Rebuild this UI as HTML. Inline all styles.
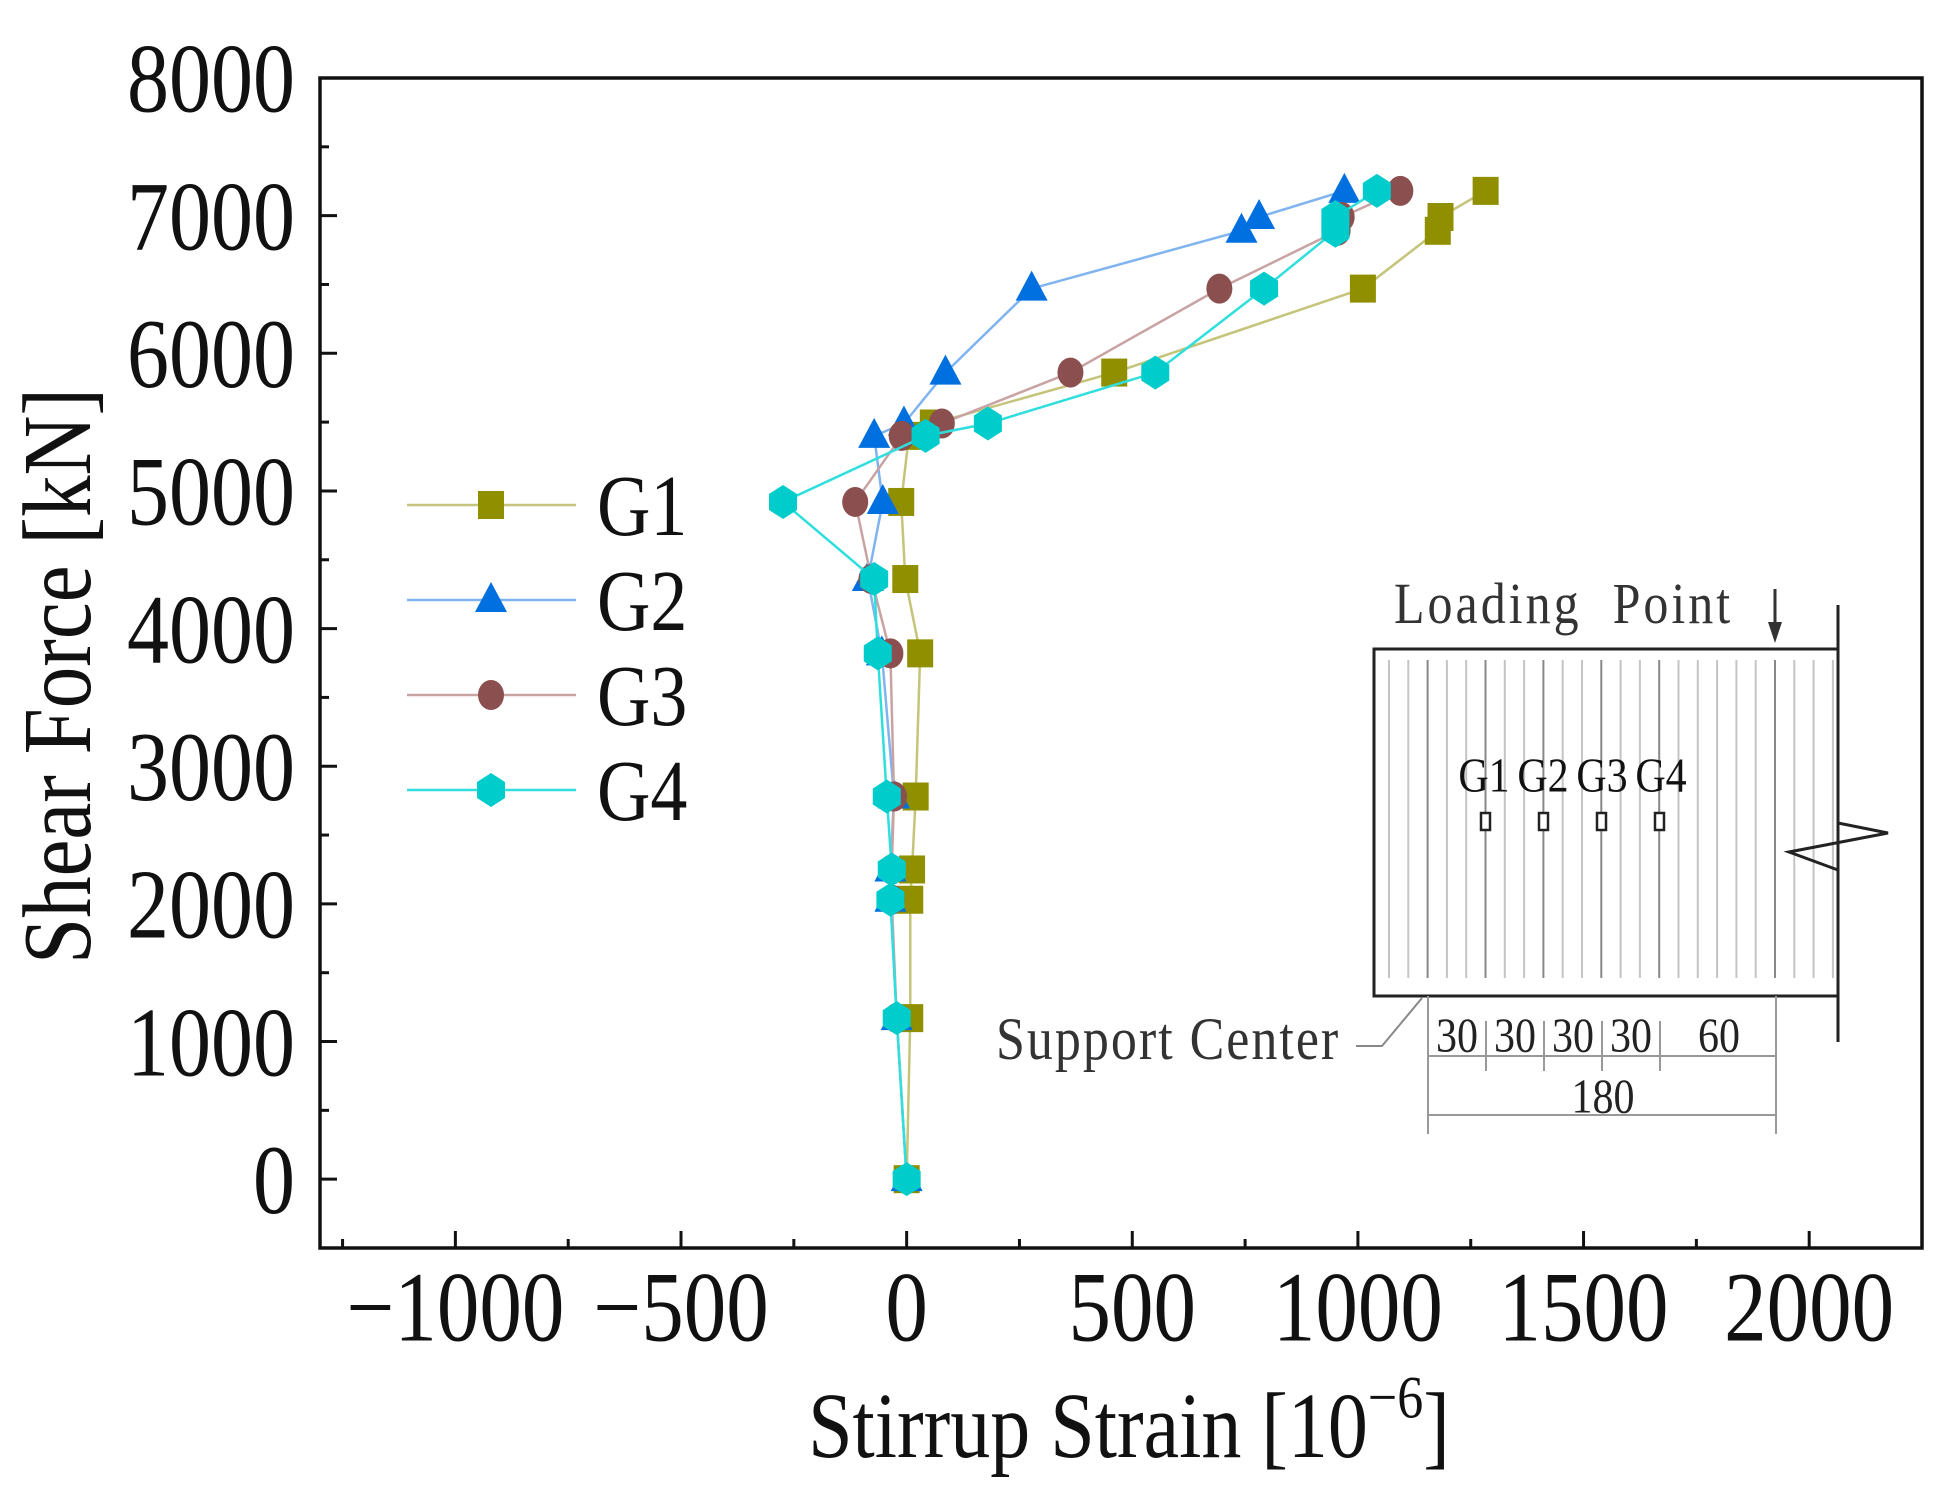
<!DOCTYPE html>
<html><head><meta charset="utf-8"><style>
html,body{margin:0;padding:0;background:#fff;}
svg{display:block;font-family:"Liberation Serif",serif;}
.tall{transform-box:fill-box;transform-origin:50% 50%;transform:scaleY(1.17);}
</style></head><body>
<svg id="chart" width="1954" height="1502" viewBox="0 0 1954 1502" xmlns="http://www.w3.org/2000/svg">
<g id="plot"></g>
<g id="inset" font-family="Liberation Serif, serif" fill="#333">
  <g id="stirrups"></g>
  <rect x="1374" y="649" width="464" height="347" fill="none" stroke="#222" stroke-width="3"/>
  <path d="M1838 605 L1838 823 L1888 833 L1789 852 L1838 870 L1838 1042" fill="none" stroke="#222" stroke-width="3"/>
  <text class="tall" x="1394" y="620" font-size="50" letter-spacing="3" fill="#333">Loading&#160; Point</text>
  <line x1="1775" y1="589" x2="1775" y2="630" stroke="#333" stroke-width="3"/>
  <polygon points="1768,622 1782,622 1775,643" fill="#333"/>
  <g font-size="42" fill="#111">
    <text class="tall" x="1484" y="789" text-anchor="middle">G1</text>
    <text class="tall" x="1543" y="789" text-anchor="middle">G2</text>
    <text class="tall" x="1602" y="789" text-anchor="middle">G3</text>
    <text class="tall" x="1661" y="789" text-anchor="middle">G4</text>
  </g>
  <g fill="#fff" stroke="#222" stroke-width="2.5">
    <rect x="1481" y="813" width="9" height="17"/>
    <rect x="1539" y="813" width="9" height="17"/>
    <rect x="1597" y="813" width="9" height="17"/>
    <rect x="1655" y="813" width="9" height="17"/>
  </g>
  <text class="tall" x="996" y="1056" font-size="52" letter-spacing="2" fill="#333">Support Center</text>
  <polyline points="1356,1046 1382,1046 1422,998" fill="none" stroke="#888" stroke-width="2"/>
  <g stroke="#999" stroke-width="2">
    <line x1="1428" y1="996" x2="1428" y2="1134"/>
    <line x1="1776" y1="996" x2="1776" y2="1134"/>
    <line x1="1486" y1="1021" x2="1486" y2="1071"/>
    <line x1="1544" y1="1021" x2="1544" y2="1071"/>
    <line x1="1602" y1="1021" x2="1602" y2="1071"/>
    <line x1="1660" y1="1021" x2="1660" y2="1071"/>
    <line x1="1428" y1="1056" x2="1776" y2="1056"/>
    <line x1="1428" y1="1115" x2="1776" y2="1115"/>
  </g>
  <g font-size="42" fill="#222" text-anchor="middle">
    <text class="tall" x="1457" y="1049">30</text>
    <text class="tall" x="1515" y="1049">30</text>
    <text class="tall" x="1573" y="1049">30</text>
    <text class="tall" x="1631" y="1049">30</text>
    <text class="tall" x="1719" y="1049">60</text>
    <text class="tall" x="1603" y="1110">180</text>
  </g>
</g>
<script>
const xTicks = [-1000, -500, 0, 500, 1000, 1500, 2000];
const yTicks = [0, 1000, 2000, 3000, 4000, 5000, 6000, 7000, 8000];
const shear = [0, 1170, 2030, 2250, 2780, 3820, 4360, 4920, 5400, 5490, 5860, 6470, 6890, 6990, 7180];
const g1 = [0, 8, 8, 12, 20, 30, -3, -12, 5, 58, 460, 1011, 1177, 1183, 1283];
const g2 = [0, -22, -36, -36, -28, -55, -86, -53, -72, -6, 86, 277, 742, 781, 970];
const g3 = [0, -22, -33, -33, -28, -36, -78, -114, -11, 78, 363, 693, 955, 964, 1094];
const g4 = [0, -22, -36, -33, -44, -64, -72, -274, 42, 180, 551, 792, 950, 950, 1042];

const NS = 'http://www.w3.org/2000/svg';
const X0 = 320, X1 = 1922, Y0 = 1248, Y1 = 78;
const xMin = -1300, xMax = 2250, yMin = -500, yMax = 8000;
function sx(v){ return X0 + (v - xMin) / (xMax - xMin) * (X1 - X0); }
function sy(v){ return Y0 - (v - yMin) / (yMax - yMin) * (Y0 - Y1); }
function mk(tag, attrs, parent){
  const e = document.createElementNS(NS, tag);
  for (const k in attrs) e.setAttribute(k, attrs[k]);
  parent.appendChild(e); return e;
}
const plot = document.getElementById('plot');

// stirrups in inset
const st = document.getElementById('stirrups');
for (let i = 0; i < 24; i++) {
  const x = 1389 + i * 19.3;
  const dark = [2,5,8,11,14,20].includes(i);
  const l = mk('line', {x1:x, y1:660, x2:x, y2:978, stroke: dark ? '#888' : '#c4c4c4', 'stroke-width':2}, st);
  
  
}

// frame
const fr = mk('rect', {x:X0, y:Y1, width:X1-X0, height:Y0-Y1, fill:'none', stroke:'#111', 'stroke-width':3.5}, plot);



for (let v = -1250; v <= 2250; v += 250) {
  const major = v % 500 === 0;
  const t = mk('line', {x1:sx(v), x2:sx(v), y1:Y0, y2:Y0-(major?17:9), stroke:'#111', 'stroke-width':3}, plot);
  
  
}
xTicks.forEach(v => {
  const t = mk('text', {x:sx(v), y:1336, 'font-size':85, 'text-anchor':'middle', fill:'#111', class:'tall'}, plot);
  t.textContent = v < 0 ? '\u2212' + Math.abs(v) : String(v);
  
  
});
for (let v = -500; v <= 8000; v += 500) {
  const major = v % 1000 === 0;
  const t = mk('line', {x1:X0, x2:X0+(major?17:9), y1:sy(v), y2:sy(v), stroke:'#111', 'stroke-width':3}, plot);
  
  
}
yTicks.forEach(v => {
  const t = mk('text', {x:295, y:sy(v)+29, 'font-size':84, 'text-anchor':'end', fill:'#111', class:'tall'}, plot);
  t.textContent = String(v);
  
  
});
// x title
const xt = mk('text', {x:1129, y:1452, 'font-size':80, 'text-anchor':'middle', fill:'#111', class:'tall'}, plot);


xt.appendChild(document.createTextNode('Stirrup Strain [10'));
const sup = mk('tspan', {'font-size':52, dy:-34}, xt);
sup.textContent = '\u22126';
const cl = mk('tspan', {dy:34}, xt);
cl.textContent = ']';
// y title
const ytg = mk('g', {transform:'translate(90,676) rotate(-90) scale(1,1.18)'}, plot);
const yt = mk('text', {x:0, y:0, 'font-size':83, 'text-anchor':'middle', fill:'#111'}, ytg);
yt.textContent = 'Shear Force [kN]';



function marker(type, x, y, color, parent){
  let e;
  if (type === 'square') e = mk('rect', {x:x-13, y:y-14, width:26, height:28, fill:color}, parent);
  else if (type === 'tri') e = mk('polygon', {points:`${x},${y-18} ${x-16},${y+12} ${x+16},${y+12}`, fill:color}, parent);
  else if (type === 'circle') e = mk('ellipse', {cx:x, cy:y, rx:13, ry:15, fill:color}, parent);
  else e = mk('polygon', {points:`${x},${y-17} ${x+14},${y-8} ${x+14},${y+8} ${x},${y+17} ${x-14},${y+8} ${x-14},${y-8}`, fill:color}, parent);
  return e;
}
const series = [
  {name:'G1', vals:g1, type:'square', mc:'#8f8f00', lc:'#c4c47a'},
  {name:'G2', vals:g2, type:'tri', mc:'#0070e0', lc:'#7fb4f0'},
  {name:'G3', vals:g3, type:'circle', mc:'#8b4f4f', lc:'#c9a3a3'},
  {name:'G4', vals:g4, type:'hex', mc:'#00cccc', lc:'#30dede'}
];
series.forEach((s, si) => {
  const g = mk('g', {}, plot);
  
  
  const pts = s.vals.map((v, i) => sx(v) + ',' + sy(shear[i])).join(' ');
  const pl = mk('polyline', {points:pts, fill:'none', stroke:s.lc, 'stroke-width':2.5}, g);
  
  
  s.vals.forEach((v, i) => {
    const m = marker(s.type, sx(v), sy(shear[i]), s.mc, g);
    
    
  });
  const ly = 505 + si * 95;
  const lg = mk('g', {}, plot);
  
  
  mk('line', {x1:407, x2:576, y1:ly, y2:ly, stroke:s.lc, 'stroke-width':2.5}, lg);
  marker(s.type, 491, ly, s.mc, lg);
  const lt = mk('text', {x:597, y:ly+26, 'font-size':74, fill:'#111', class:'tall'}, lg);
  lt.textContent = s.name;
});
</script>
</svg>
</body></html>
